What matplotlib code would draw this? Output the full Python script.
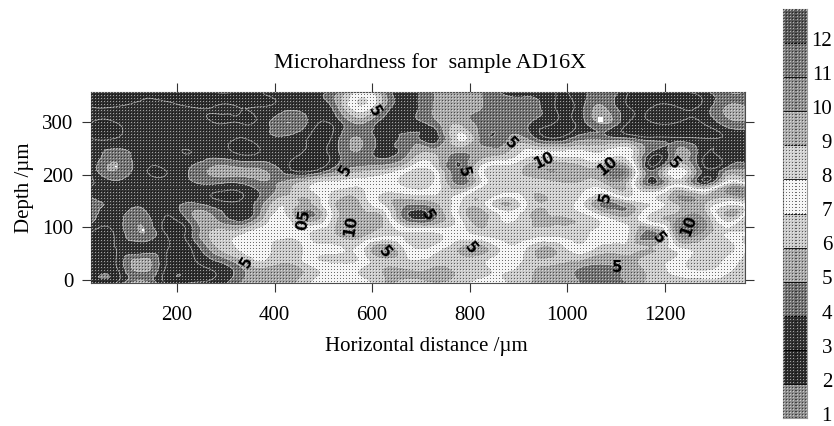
import numpy as np
import matplotlib
matplotlib.use("Agg")
import matplotlib.pyplot as plt
import matplotlib.tri as tri
from matplotlib.transforms import ScaledTranslation

plt.rcParams['font.family'] = ['Liberation Serif', 'DejaVu Serif']

x_um = [24, 75, 125, 175, 225, 275, 325, 375, 425, 475, 525, 575, 625, 675,
        725, 775, 825, 875, 925, 975, 1025, 1075, 1125, 1175, 1225, 1275, 1325, 1364]
y_um = [358, 330, 300, 270, 240, 210, 180, 150, 120, 90, 60, 30, -6]

# hardness, one row per depth
r358 = [3, 3, 3, 3, 3, 3, 3, 3, 3.5, 3.6, 4.5, 7.5, 5, 3.5, 5, 5.5, 5, 3.6, 3.5, 3, 3.5, 5, 3, 3, 3, 3.5, 5, 5]
r330 = [3, 3, 3.2, 3.2, 3, 3, 3, 3, 3.5, 3.5, 4.6, 7.8, 5, 3.5, 5, 5.5, 5, 4.5, 4.5, 3, 3.5, 5, 3, 3, 3, 3.2, 5, 5]
r300 = [3, 3, 3.6, 3.6, 3.6, 3, 3, 3.4, 5, 3.6, 3.4, 5.2, 3.5, 3.5, 4.5, 5.8, 4.6, 4.5, 4, 3, 3.4, 5.2, 3, 3, 3, 3, 4.5, 4.8]
r270 = [3, 3, 3.6, 3.6, 3.6, 3.6, 3, 3.6, 3.8, 2.8, 3.5, 5, 3.4, 4.5, 3.4, 7, 4.6, 4.8, 4.5, 3, 4.5, 4.5, 4, 3.3, 3.2, 3, 3.2, 3.4]
r240 = [3, 4.5, 3.5, 3.4, 3, 3.6, 3, 3.2, 3.4, 2.6, 3.6, 4.8, 3.6, 5, 6, 4.8, 5.5, 6, 7.6, 7.5, 7.5, 7.2, 7.5, 3.4, 5.2, 3.4, 3.6, 3.4]
r210 = [3.2, 5, 3.4, 3, 4, 5.2, 5.2, 5, 3.4, 2.6, 4.5, 5.5, 6, 7.5, 7.5, 4.2, 7.5, 8.5, 9.5, 10, 9.5, 10, 9.8, 3.8, 7.5, 3.8, 4.5, 5]
r180 = [3, 3.5, 3.5, 3.2, 3.6, 3.8, 3.6, 4.6, 5.5, 7, 7.6, 7.8, 7.5, 8.2, 7.8, 5, 7.5, 8.6, 8.6, 8.6, 8.6, 8.5, 8.5, 4.3, 7.3, 4.5, 8.5, 8.5]
r150 = [4.4, 3.6, 3.5, 3.3, 3.8, 3.2, 3, 4.6, 6.5, 6, 8.8, 8.8, 6.5, 5.5, 6, 7.5, 8.5, 6, 8.5, 8.6, 7.6, 5, 6.5, 7.5, 9.5, 9.5, 8, 8.5]
r120 = [4.6, 3.5, 4.6, 3, 4.5, 5, 3.3, 5.6, 7, 4.8, 8.5, 9.5, 8.5, 4, 4.5, 7.5, 9.5, 7.6, 9, 9, 8.6, 7, 6, 8.5, 9.6, 10, 6, 8]
r090 = [3, 3.2, 5, 3, 3.5, 6.2, 6.5, 7.5, 7.5, 8, 9, 9.5, 8.5, 8, 8, 7.5, 8.5, 8.6, 8.8, 8.5, 8.5, 7.5, 7, 4.5, 10, 10, 8, 7.5]
r060 = [3, 3, 3.4, 3.2, 2.8, 5.5, 7, 7.5, 6, 7.6, 7.8, 7.5, 5, 7.5, 7.6, 6, 5.5, 7.5, 6.5, 6, 7.6, 6.5, 6.5, 6, 7.5, 8.5, 8.5, 7]
r030 = [3, 3, 5.6, 3.2, 2.6, 3.5, 5, 6.5, 5.8, 7.2, 7.8, 7.5, 6.2, 6.5, 6.2, 6.4, 6.8, 7.6, 6.3, 6, 5.4, 5, 5.5, 6.5, 7.5, 8.5, 7.6, 6.5]
r000 = [3, 3, 5.6, 3, 3, 3.3, 4.8, 6, 5.6, 7, 7.8, 7.6, 6, 6.3, 6, 6.3, 7.5, 7, 6, 5.7, 5, 4.8, 5, 6.3, 6, 6.3, 6.5, 6]
hardness = [r358, r330, r300, r270, r240, r210, r180, r150, r120, r090, r060, r030, r000]

levels = [1, 2, 3, 4, 5, 6, 7, 8, 9, 10, 11, 12, 13]
band_greys = ['0.55', '0.18', '0.20', '0.45', '0.66', '0.80', '0.96', '0.82', '0.68',
              '0.56', '0.48', '0.35']
bar_labels = ['1', '2', '3', '4', '5', '6', '7', '8', '9', '10', '11', '12']

# contour text as it sits in the plot
lab_text = ['5', '5', '05', '10', '5', '5', '5', '5', '5', '10', '10', '5', '5', '5', '5', '5', '10']
lab_x = [604, 545, 459, 557, 342, 625, 713, 788, 885, 952, 1083, 1217, 1077, 801, 1102, 1188, 1249]
lab_y = [321, 209, 114, 103, 34, 53, 122, 205, 260, 228, 217, 222, 158, 61, 23, 80, 103]
lab_rot = [-60, 60, 80, 80, 60, -50, -60, -75, -45, 25, 40, -45, 80, -50, 0, -50, 70]

# isolated spikes, tiny white specks
spike_x = [75, 130, 1068]
spike_y = [216, 95, 306]
spike_s = [2, 2, 14]


def dot_screen(h, w):
    # halftone screen: white dots and black dots on a clear mesh
    yy, xx = np.mgrid[0:h, 0:w]
    white = ((xx % 3 == 1) & (yy % 3 == 1))
    black = ((xx % 3 == 0) & (yy % 3 == 0))
    img = np.zeros((h, w, 4))
    img[white, :3] = 1.0
    img[white, 3] = 0.55
    img[black, 3] = 0.55
    return img


fig = plt.figure(figsize=(8.34, 4.26), dpi=100)
W, H = 834, 426
ax = fig.add_axes([91 / W, 1 - 283 / H, (745 - 91) / W, (283 - 92) / H])

xg, yg = np.meshgrid(x_um, y_um)
z = np.array(hardness, dtype=float)
tr = tri.Triangulation(xg.ravel(), yg.ravel())
refiner = tri.UniformTriRefiner(tr)
tr_f, z_f = refiner.refine_field(z.ravel(), subdiv=3)

cf = ax.tricontourf(tr_f, z_f, levels=levels, colors=band_greys, extend='both')
ax.tricontour(tr_f, z_f, levels=[3, 4, 5], colors='0.75', linewidths=0.6, alpha=0.8)
ax.imshow(dot_screen(191, 654), extent=[24, 1364, -6, 358], aspect='auto',
          interpolation='nearest', zorder=3)
ax.scatter(spike_x, spike_y, s=spike_s, c='white', marker='s', linewidths=0, zorder=4)

for t, x, y, r in zip(lab_text, lab_x, lab_y, lab_rot):
    ax.text(x, y, t, rotation=r, ha='center', va='center', fontsize=11, fontweight='bold',
            family=['DejaVu Sans'], color='black', zorder=5)

ax.set_xlim(24, 1364)
ax.set_ylim(-6, 358)
ax.set_xticks([200, 400, 600, 800, 1000, 1200])
ax.set_yticks([0, 100, 200, 300])
ax.tick_params(axis='both', direction='out', length=6.5, width=0.8, labelsize=15,
               top=True, right=True, color='0.2')
ax.tick_params(axis='x', pad=10)
ax.tick_params(axis='y', pad=6)
ax.set_xlabel('Horizontal distance /µm', fontsize=15, labelpad=9, x=0.513)
ax.set_ylabel('Depth /µm', fontsize=15, labelpad=6)
ax.set_title('Microhardness for  sample AD16X', fontsize=16, x=0.518, pad=17)
for s in ax.spines.values():
    s.set_linewidth(0.8)
    s.set_color('0.3')

cax = fig.add_axes([783 / W, 1 - 418 / H, 24 / W, (418 - 9) / H])
for i in range(len(band_greys)):
    cax.axhspan(levels[i], levels[i + 1], color=band_greys[i], linewidth=0)
cax.hlines(levels[1:-1], 0, 1, colors='black', linewidth=0.6, zorder=2, transform=cax.get_yaxis_transform())
cax.imshow(dot_screen(409, 24), extent=[0, 1, 1, 13], aspect='auto',
           interpolation='nearest', zorder=3)
cax.set_xlim(0, 1)
cax.set_ylim(1, 13)
cax.set_xticks([])
cax.yaxis.tick_right()
cax.set_yticks(levels[:-1])
cax.set_yticklabels(bar_labels, fontsize=15, ha='right')
cax.tick_params(axis='y', length=0, pad=18)
# nudge the bar labels up so the bottom one stays inside the figure
nudge = ScaledTranslation(0, 3 / 72, fig.dpi_scale_trans)
for lbl in cax.get_yticklabels():
    lbl.set_transform(lbl.get_transform() + nudge)
for s in cax.spines.values():
    s.set_linewidth(0.8)
    s.set_color('0.6')

fig.savefig('out.png', dpi=100)
